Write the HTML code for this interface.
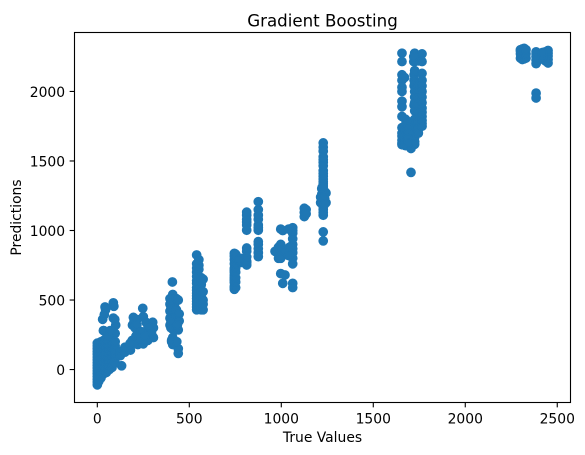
<!DOCTYPE html>
<html lang="en">
<head>
<meta charset="utf-8">
<title>Gradient Boosting</title>
<style>
html,body{margin:0;padding:0;background:#fff;width:585px;height:455px;overflow:hidden}
svg{display:block}
text{font-family:"DejaVu Sans","Liberation Sans",sans-serif;fill:#000}
</style>
</head>
<body>
<svg id="chart" xmlns="http://www.w3.org/2000/svg" width="585" height="455" viewBox="0 0 585 455">
<rect x="74.5" y="32.5" width="496" height="370" fill="#fff"/>
<g id="points"></g>
<g id="ticks"></g>
<rect x="74.5" y="32.5" width="496" height="370" fill="none" stroke="#000" stroke-width="1.11"/>
<text x="322.5" y="26.5" font-size="16.67" text-anchor="middle">Gradient Boosting</text>
<text x="322.5" y="442" font-size="13.89" text-anchor="middle">True Values</text>
<text transform="translate(21,217.5) rotate(-90)" font-size="13.89" text-anchor="middle">Predictions</text>
</svg>
<script>
const xTickValues = [0, 500, 1000, 1500, 2000, 2500];
const yTickValues = [0, 500, 1000, 1500, 2000];
const trueValues = [
0,0,0,0,0,0,0,0,0,0,0,0,0,0,0,0,
8,8,8,8,8,8,8,8,8,8,
20,20,20,20,20,20,20,20,20,20,20,
35,35,35,35,35,35,35,35,35,35,
50,50,50,50,50,50,50,50,50,50,
65,65,65,65,65,65,65,65,65,
80,80,80,80,80,80,80,80,80,
97,97,97,97,97,97,97,
42,87,29,87,100,33,55,70,45,90,95,38,
132,125,125,150,150,165,180,180,
196,191,200,205,210,190,215,220,220,215,
240,247,250,250,255,260,265,270,280,301,305,305,295,285,275,
178,250,286,214,276,240,230,260,
408,410,410,410,410,410,410,410,410,404,404,420,420,420,420,
395,395,395,395,395,400,400,400,400,430,430,430,430,
440,440,440,440,445,445,432,435,
540,540,540,540,540,540,540,540,540,540,540,540,540,540,540,540,
552,552,552,552,552,552,552,552,552,552,552,552,
565,565,565,565,565,565,565,565,565,
575,575,575,575,575,
745,745,745,745,745,745,745,745,745,745,745,745,745,745,745,
752,752,752,752,752,752,752,752,752,780,780,770,
812,812,812,812,812,812,812,812,812,812,812,812,
875,875,875,875,875,875,875,875,875,875,875,875,
966,985,985,997,997,997,997,997,997,1008,1008,1020,1020,
1062,1062,1062,1062,1062,1062,1062,1062,1062,1062,1062,1040,1040,1045,
1125,1125,1125,1135,1135,
1228,1228,1228,1228,1228,1228,1228,1228,1228,1228,1228,1228,1228,1228,1228,1228,1228,1228,1228,1228,1214,1214,1243,1243,1220,1220,1220,
1228,1228,1228,1228,1228,1228,1228,1236,1236,1236,1222,
1656,1656,1656,1656,1656,1656,1656,1656,1656,1656,1656,1656,1656,1656,1656,
1720,1675,1675,1675,1675,1675,1675,1675,
1722,1722,1722,1722,1705,1705,1705,1705,1705,1705,1705,
1725,1725,1725,1725,1725,1725,1725,1725,1725,1725,1725,1725,1725,1725,1725,
1745,1745,1745,1745,1745,1745,1745,1745,1745,1745,1745,1745,
1765,1765,1765,1765,1765,1765,1765,1765,1765,1765,1765,1765,1765,1765,
1690,1690,1690,1690,1690,1670,1720,
2300,2300,2300,2300,2310,2310,2310,2310,2320,2320,2320,2320,2330,2330,2330,
2385,2385,2385,2385,2385,2385,2385,2390,2390,
2435,2435,2435,2450,2450,2450,2450,2450,2420,2420
];
const predictions = [
-110,-90,-70,-50,-30,-10,10,30,50,70,90,110,130,150,170,190,
-85,-45,-5,35,75,115,150,-65,5,60,
-60,-30,0,30,60,90,120,150,180,200,-45,
-30,0,30,60,90,120,150,180,210,280,
-20,10,40,70,100,130,160,190,220,260,
0,30,60,90,120,150,180,210,250,
15,40,70,100,130,160,190,220,250,
50,80,110,140,170,200,260,
450,480,361,370,320,280,240,280,430,455,360,395,
27,130,100,125,160,150,140,175,
375,320,350,300,240,210,360,180,260,320,
200,440,185,380,260,220,340,250,280,340,230,300,260,290,210,
188,212,272,248,308,272,225,240,
630,180,230,290,350,400,450,500,540,212,200,280,340,420,470,
320,370,420,470,510,300,350,440,490,310,380,430,510,
116,150,285,500,400,350,200,320,
430,450,470,490,510,530,550,570,590,620,640,670,700,730,760,824,
440,465,490,530,580,620,670,720,750,790,600,510,
430,455,480,520,545,570,610,635,660,
430,470,500,560,650,
577,590,600,625,640,650,665,680,700,715,730,760,790,815,836,
590,630,660,700,730,760,790,810,830,770,800,790,
752,770,780,810,850,874,1002,1040,1060,1080,1110,1132,
812,840,870,900,920,1002,1020,1040,1080,1110,1150,1207,
850,880,800,1010,900,860,830,800,690,620,1000,680,850,
1020,980,940,900,870,840,800,760,1000,620,590,1010,820,880,
1160,1130,1100,1150,1120,
1630,1600,1570,1530,1490,1430,1390,1350,1320,1290,1260,1240,1210,1180,1150,1110,1130,990,925,1170,1200,1240,1200,1270,1220,1260,1300,
1510,1465,1410,1370,1335,1305,1275,1280,1230,1190,1310,
2275,2215,2120,2080,2030,2000,1930,1890,1820,1740,1700,1680,1650,1630,1617,
2215,1800,1760,1720,1680,1650,1630,1610,
2120,2080,2040,1900,1780,1730,1680,1640,1590,1418,1620,
2275,2215,2150,2060,2000,1960,1920,1860,1800,1750,1710,1670,1640,1620,1690,
2250,2220,2050,2000,1950,1900,1850,1800,1760,1730,1700,1780,
2270,2215,2130,2080,2040,2000,1960,1920,1880,1850,1820,1790,1770,1750,
1780,1740,1700,1660,1630,2100,2250,
2240,2270,2290,2300,2230,2260,2280,2305,2235,2265,2290,2310,2240,2270,2300,
2200,2225,2250,2270,2285,1988,1953,2215,2240,
2220,2260,2285,2205,2230,2255,2275,2295,2250,2280
];

const xDomainMin = -124, xDomainMax = 2572;
const yDomainMin = -237, yDomainMax = 2424;
const plotLeft = 74.5, plotRight = 570.5, plotTop = 32.5, plotBottom = 402.5;
function xScale(v) { return plotLeft + (v - xDomainMin) / (xDomainMax - xDomainMin) * (plotRight - plotLeft); }
function yScale(v) { return plotBottom - (v - yDomainMin) / (yDomainMax - yDomainMin) * (plotBottom - plotTop); }

const NS = 'http://www.w3.org/2000/svg';
const pointsGroup = document.getElementById('points');
const ticksGroup = document.getElementById('ticks');

const pointCount = Math.min(trueValues.length, predictions.length);
for (let i = 0; i < pointCount; i++) {
  const c = document.createElementNS(NS, 'circle');
  
  
  c.setAttribute('cx', xScale(trueValues[i]));
  c.setAttribute('cy', yScale(predictions[i]));
  c.setAttribute('r', 4.17);
  c.setAttribute('fill', '#1f77b4');
  c.setAttribute('stroke', '#1f77b4');
  c.setAttribute('stroke-width', 1.39);
  pointsGroup.appendChild(c);
}

xTickValues.forEach(function (v) {
  const px = xScale(v);
  const t = document.createElementNS(NS, 'line');
  
  
  t.setAttribute('x1', px);
  t.setAttribute('x2', px);
  t.setAttribute('y1', plotBottom);
  t.setAttribute('y2', plotBottom + 4.86);
  t.setAttribute('stroke', '#000');
  t.setAttribute('stroke-width', 1.11);
  ticksGroup.appendChild(t);
  const l = document.createElementNS(NS, 'text');
  
  
  l.setAttribute('x', px);
  l.setAttribute('y', 423.5);
  l.setAttribute('font-size', 13.89);
  l.setAttribute('text-anchor', 'middle');
  l.textContent = String(v);
  ticksGroup.appendChild(l);
});

yTickValues.forEach(function (v) {
  const py = yScale(v);
  const t = document.createElementNS(NS, 'line');
  
  
  t.setAttribute('x1', plotLeft - 4.86);
  t.setAttribute('x2', plotLeft);
  t.setAttribute('y1', py);
  t.setAttribute('y2', py);
  t.setAttribute('stroke', '#000');
  t.setAttribute('stroke-width', 1.11);
  ticksGroup.appendChild(t);
  const l = document.createElementNS(NS, 'text');
  
  
  l.setAttribute('x', plotLeft - 9.4);
  l.setAttribute('y', py + 5.6);
  l.setAttribute('font-size', 13.89);
  l.setAttribute('text-anchor', 'end');
  l.textContent = String(v);
  ticksGroup.appendChild(l);
});
</script>
</body>
</html>
